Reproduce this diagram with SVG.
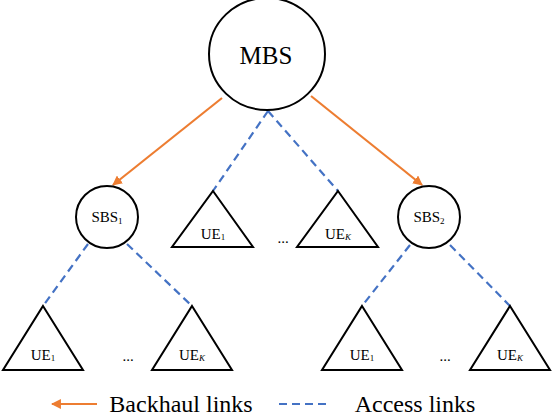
<svg xmlns="http://www.w3.org/2000/svg" width="554" height="418" viewBox="0 0 554 418">
<style>
.node{fill:#fff;stroke:#000;stroke-width:2}
.bh{stroke:#ED7D31;stroke-width:2.2;fill:none}
.ac{stroke:#4472C4;stroke-width:2.2;fill:none;stroke-dasharray:8 5}
text{fill:#000;text-anchor:middle;font-family:"Liberation Serif","DejaVu Serif",serif}
.lbl{font-size:15px}
.sub{font-size:9px}
.leg{font-size:24px}
</style>
<defs>
<marker id="ah" viewBox="0 0 10 10" refX="9" refY="5" markerWidth="4.5" markerHeight="4.5" orient="auto" markerUnits="strokeWidth">
<path d="M0,0 L10,5 L0,10 z" fill="#ED7D31"/>
</marker>
</defs>
<g id="connectors">
<line class="bh" x1="222" y1="98" x2="113" y2="185" marker-end="url(#ah)"/>
<line class="bh" x1="311" y1="96" x2="422" y2="185" marker-end="url(#ah)"/>
<line class="ac" x1="268" y1="111" x2="213" y2="191"/>
<line class="ac" x1="268" y1="111" x2="338" y2="191"/>
<line class="ac" x1="88" y1="244" x2="43" y2="306"/>
<line class="ac" x1="127" y1="244" x2="192" y2="306"/>
<line class="ac" x1="410" y1="245" x2="362" y2="306"/>
<line class="ac" x1="450" y1="245" x2="510" y2="306"/>
</g>
<g id="MBS">
<ellipse class="node" cx="267" cy="54" rx="58" ry="56"/>
<text x="266" y="64" font-size="25">MBS</text>
</g>
<g id="SBS1">
<circle class="node" cx="107" cy="217" r="31"/>
<text x="107" y="222" class="lbl">SBS<tspan class="sub" dy="2">1</tspan></text>
</g>
<g id="SBS2">
<circle class="node" cx="429" cy="217" r="31"/>
<text x="429" y="222" class="lbl">SBS<tspan class="sub" dy="2">2</tspan></text>
</g>
<g id="UE1-mid">
<polygon class="node" points="213,191 253,247 172,247"/>
<text x="213" y="239" class="lbl">UE<tspan class="sub" dy="1">1</tspan></text>
</g>
<g id="dots-mid"><text x="283" y="243" class="lbl">...</text></g>
<g id="UEK-mid">
<polygon class="node" points="338,191 378,247 297,247"/>
<text x="338" y="239" class="lbl">UE<tspan class="sub" dy="1" font-style="italic">K</tspan></text>
</g>
<g id="UE1-left">
<polygon class="node" points="43,306 83,370 3,370"/>
<text x="43" y="360" class="lbl">UE<tspan class="sub" dy="1">1</tspan></text>
</g>
<g id="dots-left"><text x="128" y="361" class="lbl">...</text></g>
<g id="UEK-left">
<polygon class="node" points="192,306 232,370 152,370"/>
<text x="192" y="360" class="lbl">UE<tspan class="sub" dy="1" font-style="italic">K</tspan></text>
</g>
<g id="UE1-right">
<polygon class="node" points="362,306 402,370 322,370"/>
<text x="362" y="360" class="lbl">UE<tspan class="sub" dy="1">1</tspan></text>
</g>
<g id="dots-right"><text x="445" y="361" class="lbl">...</text></g>
<g id="UEK-right">
<polygon class="node" points="510,306 550,370 470,370"/>
<text x="510" y="360" class="lbl">UE<tspan class="sub" dy="1" font-style="italic">K</tspan></text>
</g>
<g id="legend">
<line class="bh" x1="97" y1="404" x2="52" y2="404" marker-end="url(#ah)"/>
<text x="181" y="412" class="leg">Backhaul links</text>
<line class="ac" x1="279" y1="404" x2="330" y2="404"/>
<text x="415" y="412" class="leg">Access links</text>
</g>
</svg>
